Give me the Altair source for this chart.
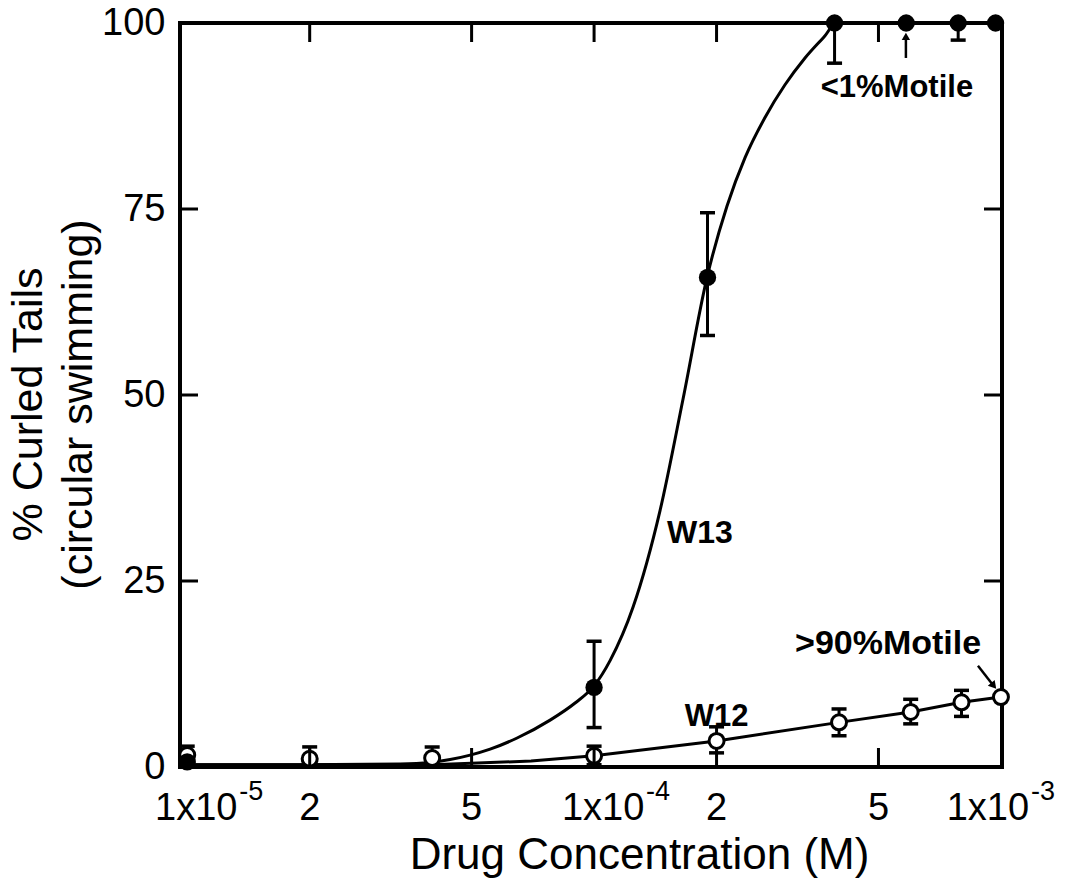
import altair as alt
import pandas as pd

FONT = "Liberation Sans"

# ---------------- data ----------------
# W13 (filled circles)
w13_conc = [1e-5, 1e-4, 1.9e-4, 3.9e-4, 5.85e-4, 7.85e-4, 9.7e-4]
w13_pct = [0.7, 10.7, 65.8, 100, 100, 100, 100]
w13_err_conc = [1e-4, 1.9e-4, 3.9e-4, 7.85e-4]
w13_err_lo = [5.3, 58.0, 94.6, 97.7]
w13_err_hi = [16.9, 74.5, 100, 100]

# fitted W13 curve
w13_curve_conc = [1e-5, 1.896e-5, 3.337e-5, 3.955e-5, 4.428e-5, 4.959e-5,
                  5.553e-5, 6.469e-5, 7.797e-5, 8.98e-5, 1e-4, 1.0947e-4,
                  1.247e-4, 1.453e-4, 1.655e-4, 1.895e-4, 2.122e-4, 2.35e-4,
                  2.631e-4, 2.946e-4, 3.299e-4, 3.695e-4, 3.932e-4, 1e-3]
w13_curve_pct = [0.3, 0.3, 0.4, 0.6, 1.0, 1.6,
                 2.4, 3.9, 6.3, 8.6, 10.9, 14.3,
                 21.5, 34.5, 49.5, 65.8, 75.4, 81.9,
                 87.3, 91.7, 95.3, 98.3, 100, 100]

# W12 (open circles)
w12_conc = [1e-5, 2e-5, 4e-5, 1e-4, 2e-4, 4e-4, 6e-4, 8e-4, 1e-3]
w12_pct = [1.6, 1.1, 1.2, 1.5, 3.5, 6.0, 7.4, 8.7, 9.4]
w12_err_conc = [1e-5, 2e-5, 4e-5, 1e-4, 2e-4, 4e-4, 6e-4, 8e-4]
w12_err_lo = [0.3, 0.3, 0.3, 0.3, 1.9, 4.2, 5.8, 6.8]
w12_err_hi = [2.8, 2.7, 2.7, 2.8, 5.4, 7.8, 9.1, 10.3]

# W12 connecting line
w12_line_conc = [1e-5, 4e-5, 7e-5, 1e-4, 2e-4, 4e-4, 6e-4, 8e-4, 1e-3]
w12_line_pct = [0.3, 0.3, 0.8, 1.5, 3.5, 6.0, 7.4, 8.7, 9.4]

# axis ticks / labels
y_ticks = [0, 25, 50, 75, 100]
y_inner_ticks = [25, 50, 75]
x_inner_ticks = [2e-5, 5e-5, 1e-4, 2e-4, 5e-4]
x_lab_vals = [1e-5, 2e-5, 5e-5, 1e-4, 2e-4, 5e-4, 1e-3]
x_lab_main = ["1x10", "2", "5", "1x10", "2", "5", "1x10"]
x_lab_exp = ["-5", "", "", "-4", "", "", "-3"]

# annotations
ann_text = ["W13", "W12", "<1%Motile", ">90%Motile"]
ann_conc = [1.82e-4, 2.0e-4, 5.55e-4, 5.28e-4]
ann_pct = [31.5, 6.7, 91.3, 16.5]
arrow1_conc = [5.84e-4]
arrow1_pct = [95.3, 98.2]
arrow2_conc = [8.78e-4, 9.6e-4]
arrow2_pct = [13.6, 10.9]

# ---------------- chart ----------------
W, H = 822, 744
xs = alt.Scale(type="log", domain=[9.6e-6, 1.006e-3])
ys = alt.Scale(domain=[0, 100])

x_axis = alt.Axis(labels=False, ticks=False, domain=False, grid=False,
                  title="Drug Concentration (M)", titleFont=FONT,
                  titleFontSize=44, titleFontWeight="normal", titleColor="black",
                  titleX=459, titleY=101, titleAlign="center",
                  titleBaseline="alphabetic")
y_axis = alt.Axis(values=y_ticks, ticks=False, domain=False, grid=False,
                  labelFont=FONT, labelFontSize=38, labelColor="black",
                  labelPadding=15,
                  title=["% Curled Tails", "(circular swimming)"],
                  titleFont=FONT, titleFontSize=43, titleFontWeight="normal",
                  titleColor="black", titleLineHeight=50, titleAngle=270,
                  titleX=-152, titleY=381, titleAlign="center",
                  titleBaseline="middle")


def X(f):
    return alt.X(f"{f}:Q", scale=xs, axis=x_axis)


def Y(f):
    return alt.Y(f"{f}:Q", scale=ys, axis=y_axis)


curve13 = pd.DataFrame({"conc": w13_curve_conc, "pct": w13_curve_pct})
line12 = pd.DataFrame({"conc": w12_line_conc, "pct": w12_line_pct})
pts13 = pd.DataFrame({"conc": w13_conc, "pct": w13_pct})
pts12 = pd.DataFrame({"conc": w12_conc, "pct": w12_pct})
err = pd.DataFrame({
    "conc": w13_err_conc + w12_err_conc,
    "lo": w13_err_lo + w12_err_lo,
    "hi": w13_err_hi + w12_err_hi,
})
caps = pd.DataFrame({
    "conc": list(err["conc"]) * 2,
    "val": list(err["lo"]) + list(err["hi"]),
})

l_curve13 = alt.Chart(curve13).mark_line(
    color="black", strokeWidth=3, interpolate="monotone"
).encode(x=X("conc"), y=Y("pct"))

l_line12 = alt.Chart(line12).mark_line(color="black", strokeWidth=3).encode(
    x=X("conc"), y=Y("pct"))

l_err = alt.Chart(err).mark_rule(color="black", strokeWidth=3).encode(
    x=X("conc"), y=Y("lo"), y2="hi")

l_caps = alt.Chart(caps).mark_tick(
    color="black", orient="horizontal", size=15, thickness=3.5, opacity=1
).encode(x=X("conc"), y=Y("val"))

l_open = alt.Chart(pts12).mark_point(
    shape="circle", filled=True, fill="white", stroke="black",
    strokeWidth=3, size=225, opacity=1
).encode(x=X("conc"), y=Y("pct"))

l_filled = alt.Chart(pts13).mark_point(
    shape="circle", filled=True, color="black", size=300, opacity=1
).encode(x=X("conc"), y=Y("pct"))

# inner ticks
top_ticks = alt.Chart(pd.DataFrame({"v": x_inner_ticks})).mark_rule(
    color="black", strokeWidth=3).encode(
    x=X("v"), y=alt.value(0), y2=alt.value(19))
bot_ticks = alt.Chart(pd.DataFrame({"v": x_inner_ticks})).mark_rule(
    color="black", strokeWidth=3).encode(
    x=X("v"), y=alt.value(H), y2=alt.value(H - 19))
left_ticks = alt.Chart(pd.DataFrame({"v": y_inner_ticks})).mark_rule(
    color="black", strokeWidth=3).encode(
    y=Y("v"), x=alt.value(0), x2=alt.value(18))
right_ticks = alt.Chart(pd.DataFrame({"v": y_inner_ticks})).mark_rule(
    color="black", strokeWidth=3).encode(
    y=Y("v"), x=alt.value(W), x2=alt.value(W - 18))

# x tick labels
xl = pd.DataFrame({"v": x_lab_vals, "main": x_lab_main, "exp": x_lab_exp})
digits = xl[xl["exp"] == ""]
pow_mid = xl[(xl["exp"] != "") & (xl["v"] < 5e-4)]
pow_last = xl[(xl["exp"] != "") & (xl["v"] > 5e-4)]

lab_style = dict(font=FONT, fontSize=38, color="black", baseline="alphabetic")
exp_style = dict(font=FONT, fontSize=27, color="black", baseline="alphabetic",
                 align="left")

LAB_Y = H + 53
EXP_Y = H + 33
t_digits = alt.Chart(digits).mark_text(align="center", **lab_style).encode(
    x=X("v"), y=alt.value(LAB_Y), text="main:N")
t_pow_mid = alt.Chart(pow_mid).mark_text(align="center", dx=9, **lab_style).encode(
    x=X("v"), y=alt.value(LAB_Y), text="main:N")
t_pow_last = alt.Chart(pow_last).mark_text(align="center", dx=-13, **lab_style).encode(
    x=X("v"), y=alt.value(LAB_Y), text="main:N")
t_exp_mid = alt.Chart(pow_mid).mark_text(dx=52, **exp_style).encode(
    x=X("v"), y=alt.value(EXP_Y), text="exp:N")
t_exp_last = alt.Chart(pow_last).mark_text(dx=30, **exp_style).encode(
    x=X("v"), y=alt.value(EXP_Y), text="exp:N")

# annotations
ann = pd.DataFrame({"t": ann_text, "conc": ann_conc, "pct": ann_pct})
ann_sizes = [32, 31, 31, 34]
ann_layers = []
for i in range(len(ann_text)):
    ann_layers.append(
        alt.Chart(ann.iloc[[i]]).mark_text(
            font=FONT, fontSize=ann_sizes[i], fontWeight="bold", color="black",
            align="center", baseline="middle"
        ).encode(x=X("conc"), y=Y("pct"), text="t:N")
    )

a1 = pd.DataFrame({"conc": arrow1_conc, "y1": [arrow1_pct[0]], "y2": [arrow1_pct[1]]})
arrow1_shaft = alt.Chart(a1).mark_rule(color="black", strokeWidth=2.5).encode(
    x=X("conc"), y=Y("y1"), y2="y2")
arrow1_head = alt.Chart(a1).mark_point(
    shape="triangle-up", filled=True, color="black", size=70, opacity=1
).encode(x=X("conc"), y=Y("y2"))

a2 = pd.DataFrame({"x1": [arrow2_conc[0]], "x2": [arrow2_conc[1]],
                   "y1": [arrow2_pct[0]], "y2": [arrow2_pct[1]]})
arrow2_shaft = alt.Chart(a2).mark_rule(color="black", strokeWidth=2.5).encode(
    x=X("x1"), x2="x2", y=Y("y1"), y2="y2")
arrow2_head = alt.Chart(a2).mark_point(
    shape="triangle-up", filled=True, color="black", size=80, opacity=1,
    angle=140
).encode(x=X("x2"), y=Y("y2"))

chart = alt.layer(
    l_curve13, l_line12, l_err, l_caps, l_open, l_filled,
    top_ticks, bot_ticks, left_ticks, right_ticks,
    t_digits, t_pow_mid, t_pow_last, t_exp_mid, t_exp_last,
    *ann_layers,
    arrow1_shaft, arrow1_head, arrow2_shaft, arrow2_head,
).properties(
    width=W, height=H,
    padding={"left": 180, "top": 23, "right": 68, "bottom": 117},
    autosize=alt.AutoSizeParams(type="none"),
    background="white",
).configure_view(
    stroke="black", strokeWidth=4
).configure_axis(grid=False)

chart.save("out.html", embed_options={"renderer": "svg", "actions": False})
